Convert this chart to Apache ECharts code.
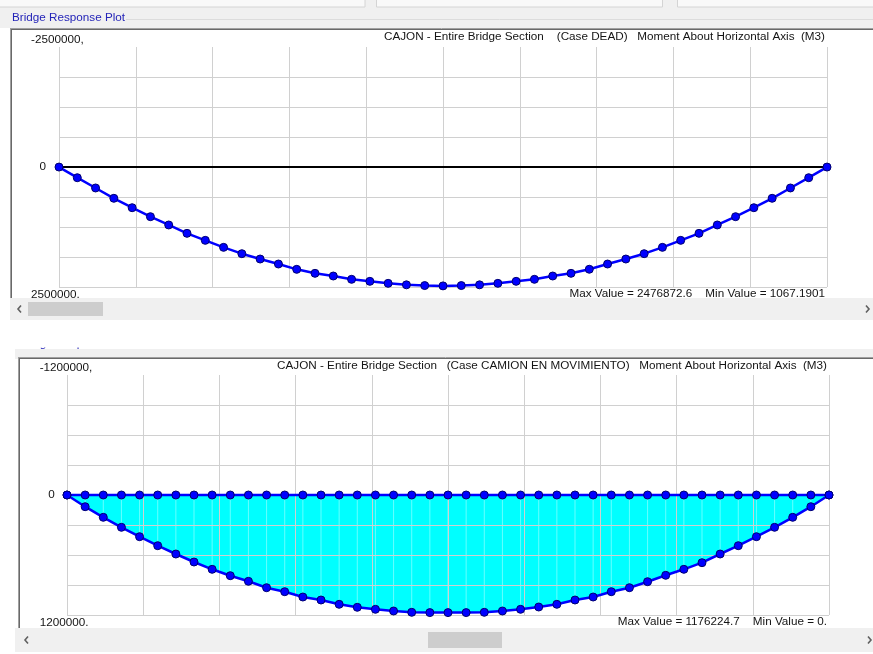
<!DOCTYPE html>
<html>
<head>
<meta charset="utf-8">
<script src="https://cdn.jsdelivr.net/npm/echarts/dist/echarts.min.js"></script>
<style>
html,body{margin:0;padding:0;background:#ffffff;}
#chart{width:873px;height:654px;}
</style>
</head>
<body>
<div id="chart"></div>
<script>
// ---------- data ----------
const stations = [0,1,2,3,4,5,6,7,8,9,10,11,12,13,14,15,16,17,18,19,20,21,22,23,24,25,26,27,28,29,30,31,32,33,34,35,36,37,38,39,40,41,42];

const deadMoment = [1067, 223000, 437000, 652000, 848000, 1035000, 1208000, 1382000, 1528000, 1674000,
  1806000, 1917000, 2021000, 2132000, 2215000, 2271000, 2340000, 2382000, 2424000, 2455000,
  2470000, 2476873, 2470000, 2455000, 2424000, 2382000, 2340000, 2271000, 2215000, 2130000,
  2021000, 1917000, 1806000, 1674000, 1528000, 1382000, 1208000, 1035000, 848000, 652000,
  437000, 223000, 1100];

const truckMax = [0, 117000, 223000, 323000, 417000, 507000, 590000, 670000, 743000, 807000,
  863000, 927000, 967000, 1020000, 1050000, 1093000, 1123000, 1143000, 1160000, 1173000,
  1176000, 1176225, 1176000, 1173000, 1160000, 1143000, 1120000, 1093000, 1050000, 1020000,
  967000, 927000, 867000, 803000, 743000, 677000, 590000, 507000, 417000, 323000,
  223000, 117000, 0];

const truckMin = [0,0,0,0,0,0,0,0,0,0,0,0,0,0,0,0,0,0,0,0,0,0,0,0,0,0,0,0,0,0,0,0,0,0,0,0,0,0,0,0,0,0,0];

const deadTickValues = [-2500000, 0, 2500000];
const deadTickTexts = ['-2500000,', '0', '2500000.'];
const truckTickValues = [-1200000, 0, 1200000];
const truckTickTexts = ['-1200000,', '0', '1200000.'];

const panelCaption = 'Bridge Response Plot';
const deadTitle = 'CAJON - Entire Bridge Section    (Case DEAD)   Moment About Horizontal Axis  (M3)';
const truckTitle = 'CAJON - Entire Bridge Section   (Case CAMION EN MOVIMIENTO)   Moment About Horizontal Axis  (M3)';
const deadStats = 'Max Value = 2476872.6    Min Value = 1067.1901';
const truckStats = 'Max Value = 1176224.7    Min Value = 0.';

// ---------- helpers ----------
const FONT_FAMILY = '"Liberation Sans", Arial, sans-serif';
const FONT_SIZE = 11.7;
const FONT = FONT_SIZE + 'px ' + FONT_FAMILY;
const TEXT_COLOR = '#141414';
const GRID_COLOR = '#d0d0d0';

function pairs(vals) { return stations.map(function (s, i) { return [s, vals[i]]; }); }

function labelFormatter(values, texts) {
  return function (v) {
    const k = values.indexOf(v);
    if (k < 0) return '';
    const key = k === 0 ? 'top' : (k === values.length - 1 ? 'bot' : 'mid');
    return '{' + key + '|' + texts[k] + '}';
  };
}
const labelRich = {
  top: {fontSize: FONT_SIZE, fontFamily: FONT_FAMILY, color: TEXT_COLOR, padding: [0, 0, 14, 0]},
  mid: {fontSize: FONT_SIZE, fontFamily: FONT_FAMILY, color: TEXT_COLOR, padding: [0, 0, 0, 8.5]},
  bot: {fontSize: FONT_SIZE, fontFamily: FONT_FAMILY, color: TEXT_COLOR, padding: [15, 0, 0, 0]}
};
const splitColors = ['rgba(0,0,0,0)', GRID_COLOR, GRID_COLOR, GRID_COLOR, GRID_COLOR, GRID_COLOR, GRID_COLOR, GRID_COLOR, GRID_COLOR];

const curveLine = {color: '#0000ff', width: 2.5};
const curveItem = {color: '#0000ff', borderColor: '#00006e', borderWidth: 1};

function frame(x, y, w, h) {
  return [
    {type: 'rect', z: -10, shape: {x: x, y: y, width: w, height: h}, style: {fill: '#ffffff'}},
    {type: 'line', z: -9, shape: {x1: x, y1: y + 0.5, x2: 873, y2: y + 0.5}, style: {stroke: '#a0a0a0', lineWidth: 1}},
    {type: 'line', z: -9, shape: {x1: x + 1, y1: y + 1.5, x2: 873, y2: y + 1.5}, style: {stroke: '#696969', lineWidth: 1}},
    {type: 'line', z: -9, shape: {x1: x + 0.5, y1: y, x2: x + 0.5, y2: y + h}, style: {stroke: '#a0a0a0', lineWidth: 1}},
    {type: 'line', z: -9, shape: {x1: x + 1.5, y1: y + 1, x2: x + 1.5, y2: y + h}, style: {stroke: '#696969', lineWidth: 1}}
  ];
}
function scrollbar(x, y, w, h, thumbX, thumbW, leftArrowX, rightArrowX) {
  const cy = y + h / 2;
  return [
    {type: 'rect', z: -10, shape: {x: x, y: y, width: w, height: h}, style: {fill: '#f0f0f0'}},
    {type: 'rect', z: -9, shape: {x: thumbX, y: y + 4, width: thumbW, height: h - 8}, style: {fill: '#cdcdcd'}},
    {type: 'polyline', z: -9, shape: {points: [[leftArrowX + 3, cy - 3.5], [leftArrowX, cy], [leftArrowX + 3, cy + 3.5]]}, style: {stroke: '#606060', lineWidth: 1.6, fill: null}},
    {type: 'polyline', z: -9, shape: {points: [[rightArrowX - 3, cy - 3.5], [rightArrowX, cy], [rightArrowX - 3, cy + 3.5]]}, style: {stroke: '#606060', lineWidth: 1.6, fill: null}}
  ];
}
function txt(text, x, y, align, color) {
  return {type: 'text', z: 5, x: x, y: y, style: {text: text, font: FONT, fill: color || TEXT_COLOR, align: align, verticalAlign: 'middle'}};
}

const graphics = [].concat(
  [
    {type: 'rect', z: -11, shape: {x: 0, y: 0, width: 873, height: 28}, style: {fill: '#f0f0f0'}},
    {type: 'rect', z: -10, shape: {x: -2, y: -2, width: 367, height: 9}, style: {fill: '#f9f9f9', stroke: '#d4d4d4', lineWidth: 1}},
    {type: 'rect', z: -10, shape: {x: 376.5, y: -2, width: 286, height: 9}, style: {fill: '#f9f9f9', stroke: '#d4d4d4', lineWidth: 1}},
    {type: 'rect', z: -10, shape: {x: 677.5, y: -2, width: 200, height: 9}, style: {fill: '#f9f9f9', stroke: '#d4d4d4', lineWidth: 1}},
    {type: 'line', z: -10, shape: {x1: 126, y1: 19.5, x2: 873, y2: 19.5}, style: {stroke: '#dcdcdc', lineWidth: 1}},
    txt(panelCaption, 12, 18, 'left', '#2424b8')
  ],
  frame(10, 28, 863, 270),
  scrollbar(10, 298, 863, 22, 28, 75, 18, 869),
  [
    // second panel: header strip (caption partly hidden above)
    {type: 'rect', z: -11, shape: {x: 15, y: 349, width: 858, height: 10}, style: {fill: '#f0f0f0'}},
    txt(panelCaption, 19, 344, 'left', '#2424b8'),
    {type: 'rect', z: 6, shape: {x: 0, y: 320, width: 873, height: 27.5}, style: {fill: '#ffffff'}}
  ],
  frame(18, 357, 855, 271),
  scrollbar(15, 628, 858, 24, 428, 74, 25, 871),
  [
    txt(deadTitle, 825, 36.5, 'right'),
    txt(deadStats, 825, 294, 'right'),
    txt(truckTitle, 827, 365.5, 'right'),
    txt(truckStats, 827, 622, 'right')
  ]
);

// ---------- chart ----------
const chart = echarts.init(document.getElementById('chart'), null, {renderer: 'canvas'});
chart.setOption({
  animation: false,
  backgroundColor: 'transparent',
  graphic: graphics,
  grid: [
    {left: 59, top: 47, width: 768, height: 240, show: false},
    {left: 67, top: 375, width: 762, height: 240, show: false}
  ],
  xAxis: [
    {gridIndex: 0, type: 'value', min: 0, max: 42, interval: 4.2,
      axisLine: {show: true, onZero: true, lineStyle: {color: '#000000', width: 2}},
      axisTick: {show: false}, axisLabel: {show: false},
      splitLine: {show: true, lineStyle: {color: GRID_COLOR, width: 1}}},
    {gridIndex: 1, type: 'value', min: 0, max: 42, interval: 4.2, z: 1,
      axisLine: {show: false}, axisTick: {show: false}, axisLabel: {show: false},
      splitLine: {show: true, lineStyle: {color: GRID_COLOR, width: 1}}}
  ],
  yAxis: [
    {gridIndex: 0, type: 'value', inverse: true, min: -2500000, max: 2500000, interval: 625000,
      axisLine: {show: false}, axisTick: {show: false},
      axisLabel: {show: true, align: 'left', margin: 28, formatter: labelFormatter(deadTickValues, deadTickTexts), rich: labelRich},
      splitLine: {show: true, lineStyle: {color: splitColors, width: 1}}},
    {gridIndex: 1, type: 'value', inverse: true, min: -1200000, max: 1200000, interval: 300000, z: 1,
      axisLine: {show: false}, axisTick: {show: false},
      axisLabel: {show: true, align: 'left', margin: 27.3, formatter: labelFormatter(truckTickValues, truckTickTexts), rich: labelRich},
      splitLine: {show: true, lineStyle: {color: splitColors, width: 1}}}
  ],
  series: [
    {name: 'DEAD', type: 'line', xAxisIndex: 0, yAxisIndex: 0, z: 3,
      data: pairs(deadMoment), symbol: 'circle', symbolSize: 8,
      lineStyle: curveLine, itemStyle: curveItem},
    {name: 'envelope fill', type: 'line', xAxisIndex: 1, yAxisIndex: 1, z: 0,
      data: pairs(truckMax), symbol: 'none', lineStyle: {width: 0},
      areaStyle: {color: '#00ffff', opacity: 1}},
    {name: 'station hatch', type: 'bar', xAxisIndex: 1, yAxisIndex: 1, z: 0.5,
      data: pairs(truckMax), barWidth: 1, itemStyle: {color: 'rgba(255,255,255,0.4)'}},
    {name: 'min', type: 'line', xAxisIndex: 1, yAxisIndex: 1, z: 3,
      data: pairs(truckMin), symbol: 'circle', symbolSize: 8,
      lineStyle: curveLine, itemStyle: curveItem},
    {name: 'max', type: 'line', xAxisIndex: 1, yAxisIndex: 1, z: 3,
      data: pairs(truckMax), symbol: 'circle', symbolSize: 8,
      lineStyle: curveLine, itemStyle: curveItem}
  ]
});
</script>
</body>
</html>
